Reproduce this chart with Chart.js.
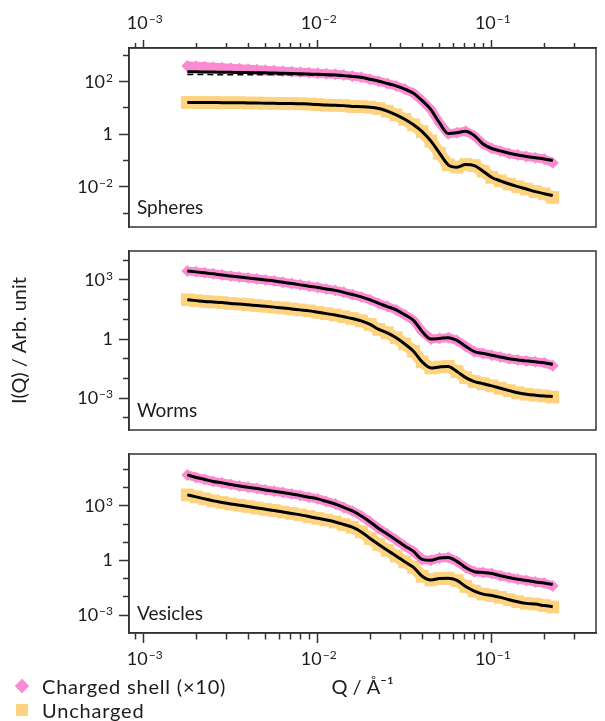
<!DOCTYPE html>
<html>
<head>
<meta charset="utf-8">
<script src="https://cdn.jsdelivr.net/npm/chart.js@4.4.1/dist/chart.umd.min.js"></script>
<style>
  body { margin: 0; background: #fff; }
  #wrap { position: relative; width: 605px; height: 721px; font-family: Lato, sans-serif; color: #1c1c1c; }
  #wrap canvas { position: absolute; left: 0; top: 0; }
  .key { position: absolute; left: 42px; font-size: 20px; line-height: 22px; letter-spacing: 0.8px; white-space: nowrap; }
  .key i { position: absolute; left: -26px; top: 5px; width: 12px; height: 12px; }
  .key i.diamond { background: #fa8bd3; transform: rotate(45deg) scale(0.85); }
  .key i.square { background: #fdd37f; }
</style>
</head>
<body>
<div id="wrap">
  <canvas id="spheres" width="605" height="721"></canvas>
  <canvas id="worms" width="605" height="721"></canvas>
  <canvas id="vesicles" width="605" height="721"></canvas>
  <div class="key" style="top:675px"><i class="diamond"></i>Charged shell (×10)</div>
  <div class="key" style="top:699px"><i class="square"></i>Uncharged</div>
</div>
<script>
// scattering vector, Å^-1
const Q = [0.00178, 0.00200, 0.00224, 0.00251, 0.00282, 0.00316, 0.00355, 0.00398, 0.00447, 0.00501,
  0.00562, 0.00631, 0.00708, 0.00794, 0.00891, 0.0100, 0.0112, 0.0126, 0.0141, 0.0158,
  0.0178, 0.0200, 0.0224, 0.0251, 0.0282, 0.0316, 0.0355, 0.0398, 0.0447, 0.0501,
  0.0562, 0.0631, 0.0708, 0.0794, 0.0891, 0.100, 0.112, 0.126, 0.141, 0.158,
  0.178, 0.200, 0.224];

// all intensities below are log10 I(Q)
// spheres
const spheresCharged = [2.60, 2.59, 2.57, 2.55, 2.53, 2.51, 2.49, 2.47, 2.45, 2.43, 2.42, 2.40, 2.38, 2.36, 2.34, 2.32, 2.30, 2.28, 2.25, 2.21,
  2.17, 2.09, 2.02, 1.93, 1.84, 1.72, 1.56, 1.28, 0.94, 0.43, 0.02, 0.06, 0.12, -0.06, -0.37, -0.54, -0.63, -0.73, -0.79, -0.84,
  -0.89, -0.94, -1.08];
const spheresChargedFit = [2.38, 2.375, 2.37, 2.365, 2.36, 2.355, 2.35, 2.345, 2.34, 2.335, 2.33, 2.32, 2.31, 2.30, 2.29, 2.28, 2.265, 2.25, 2.23, 2.20,
  2.17, 2.09, 2.02, 1.93, 1.84, 1.72, 1.56, 1.28, 0.94, 0.43, 0.03, 0.06, 0.12, -0.05, -0.37, -0.54, -0.63, -0.72, -0.79, -0.84,
  -0.89, -0.94, -1.00];
const spheresChargedFit2 = [2.27, 2.27, 2.27, 2.268, 2.266, 2.264, 2.262, 2.26, 2.26, 2.26, 2.26, 2.26, 2.26, 2.26, 2.26, 2.25, 2.24, 2.23, 2.21, 2.18,
  2.15, 2.07, 2.00, 1.91, 1.82, 1.71, 1.55, 1.28, 0.94, 0.43, 0.03, 0.06, 0.12, -0.05, -0.37, -0.54, -0.63, -0.72, -0.79, -0.84,
  -0.89, -0.94, -1.00];
const spheresUncharged = [1.21, 1.21, 1.21, 1.21, 1.20, 1.20, 1.20, 1.19, 1.19, 1.18, 1.18, 1.17, 1.17, 1.16, 1.15, 1.13, 1.11, 1.10, 1.09, 1.06,
  1.05, 1.03, 0.98, 0.88, 0.74, 0.57, 0.36, 0.10, -0.26, -0.72, -1.16, -1.25, -1.15, -1.19, -1.40, -1.64, -1.77, -1.89, -1.99, -2.08,
  -2.18, -2.26, -2.40];
const spheresUnchargedFit = [1.21, 1.21, 1.21, 1.21, 1.20, 1.20, 1.20, 1.19, 1.19, 1.18, 1.18, 1.17, 1.17, 1.16, 1.15, 1.13, 1.11, 1.10, 1.09, 1.06,
  1.05, 1.03, 0.98, 0.88, 0.74, 0.57, 0.36, 0.10, -0.26, -0.72, -1.16, -1.25, -1.15, -1.19, -1.40, -1.64, -1.77, -1.89, -1.99, -2.08,
  -2.18, -2.26, -2.33];

// worms
const wormsCharged = [3.46, 3.41, 3.36, 3.31, 3.25, 3.20, 3.15, 3.10, 3.05, 3.00, 2.95, 2.88, 2.82, 2.75, 2.68, 2.62, 2.54, 2.47, 2.37, 2.26,
  2.14, 1.99, 1.81, 1.65, 1.48, 1.23, 0.95, 0.38, 0.00, 0.03, 0.07, -0.07, -0.37, -0.64, -0.73, -0.82, -0.91, -1.00, -1.06, -1.11,
  -1.16, -1.20, -1.36];
const wormsChargedFit = [3.46, 3.41, 3.36, 3.31, 3.25, 3.20, 3.15, 3.10, 3.05, 3.00, 2.95, 2.88, 2.82, 2.75, 2.68, 2.62, 2.54, 2.47, 2.37, 2.26,
  2.14, 1.99, 1.81, 1.65, 1.48, 1.23, 0.95, 0.38, 0.00, 0.03, 0.07, -0.07, -0.37, -0.64, -0.73, -0.82, -0.91, -1.00, -1.06, -1.11,
  -1.16, -1.20, -1.29];
const wormsUncharged = [1.99, 1.95, 1.91, 1.88, 1.85, 1.81, 1.78, 1.74, 1.70, 1.66, 1.62, 1.58, 1.53, 1.48, 1.43, 1.36, 1.29, 1.22, 1.13, 1.04,
  0.92, 0.74, 0.49, 0.31, 0.06, -0.25, -0.62, -1.16, -1.47, -1.42, -1.39, -1.65, -1.96, -2.16, -2.27, -2.38, -2.50, -2.62, -2.73, -2.80,
  -2.85, -2.89, -2.95];
const wormsUnchargedFit = [1.99, 1.95, 1.91, 1.88, 1.85, 1.81, 1.78, 1.74, 1.70, 1.66, 1.62, 1.58, 1.53, 1.48, 1.43, 1.36, 1.29, 1.22, 1.13, 1.04,
  0.92, 0.74, 0.49, 0.31, 0.06, -0.25, -0.62, -1.16, -1.47, -1.42, -1.39, -1.65, -1.96, -2.16, -2.27, -2.38, -2.50, -2.62, -2.73, -2.80,
  -2.85, -2.89, -2.92];

// vesicles
const vesiclesCharged = [4.71, 4.57, 4.46, 4.35, 4.27, 4.18, 4.10, 4.03, 3.96, 3.88, 3.81, 3.74, 3.66, 3.58, 3.48, 3.39, 3.25, 3.11, 2.92, 2.73,
  2.45, 2.12, 1.76, 1.46, 1.13, 0.80, 0.50, 0.06, 0.01, 0.14, 0.17, -0.05, -0.39, -0.62, -0.66, -0.72, -0.84, -0.94, -1.03, -1.10,
  -1.18, -1.24, -1.40];
const vesiclesChargedFit = [4.71, 4.57, 4.46, 4.35, 4.27, 4.18, 4.10, 4.03, 3.96, 3.88, 3.81, 3.74, 3.66, 3.58, 3.48, 3.39, 3.25, 3.11, 2.92, 2.73,
  2.45, 2.12, 1.76, 1.46, 1.13, 0.80, 0.50, 0.06, 0.01, 0.14, 0.17, -0.05, -0.39, -0.62, -0.66, -0.72, -0.84, -0.94, -1.03, -1.10,
  -1.18, -1.24, -1.32];
const vesiclesUncharged = [3.61, 3.50, 3.39, 3.28, 3.19, 3.11, 3.04, 2.97, 2.89, 2.82, 2.75, 2.67, 2.59, 2.51, 2.42, 2.32, 2.23, 2.12, 1.98, 1.83,
  1.57, 1.21, 0.88, 0.56, 0.25, -0.07, -0.38, -0.87, -1.07, -0.99, -0.98, -1.10, -1.43, -1.68, -1.85, -1.93, -2.03, -2.16, -2.27, -2.36,
  -2.40, -2.48, -2.56];
const vesiclesUnchargedFit = [3.61, 3.50, 3.39, 3.28, 3.19, 3.11, 3.04, 2.97, 2.89, 2.82, 2.75, 2.67, 2.59, 2.51, 2.42, 2.32, 2.23, 2.12, 1.98, 1.83,
  1.57, 1.21, 0.88, 0.56, 0.25, -0.07, -0.38, -0.87, -1.07, -0.99, -0.98, -1.10, -1.43, -1.68, -1.85, -1.93, -2.03, -2.16, -2.27, -2.36,
  -2.40, -2.48, -2.54];

const FONT = 'Lato';
const INK = '#1c1c1c';
const FRAME = '#333';
const PINK = '#fa8bd3';
const YELLOW = '#fdd37f';
const Q_MIN = 8.23e-4, Q_MAX = 0.397;

function points(logI) {
  return Q.map((q, i) => ({ x: q, y: Math.pow(10, logI[i]) }));
}

// "10" with a raised exponent; anchor is right edge or centre, y is the baseline
function drawPower(ctx, k, x, y, align) {
  const base = k === 0 ? '1' : '10';
  const exp = k === 0 ? '' : String(k).replace('-', '\u2212');
  ctx.font = '18px ' + FONT;
  const wb = ctx.measureText(base).width;
  ctx.font = '12px ' + FONT;
  const we = exp ? ctx.measureText(exp).width + 1 : 0;
  const left = align === 'right' ? x - wb - we : x - (wb + we) / 2;
  ctx.font = '18px ' + FONT;
  ctx.fillText(base, left, y);
  if (exp) {
    ctx.font = '12px ' + FONT;
    ctx.fillText(exp, left + wb + 1, y - 6);
  }
}

// box round each panel
const frame = {
  id: 'frame',
  afterDatasetsDraw(chart) {
    const { ctx, chartArea: a } = chart;
    ctx.save();
    ctx.strokeStyle = FRAME;
    ctx.lineWidth = 1.5;
    ctx.strokeRect(a.left, a.top, a.right - a.left, a.bottom - a.top);
    ctx.restore();
  }
};
// decade labels on the major ticks
const powerLabels = {
  id: 'powerLabels',
  afterDraw(chart) {
    const ctx = chart.ctx;
    ctx.save();
    ctx.fillStyle = INK;
    ctx.textBaseline = 'alphabetic';
    Object.values(chart.scales).forEach(s => {
      if (!s.options.display) return;
      s.ticks.forEach(t => {
        if (!t.major) return;
        const k = Math.round(Math.log10(t.value));
        const p = s.getPixelForValue(t.value);
        if (s.axis === 'y') drawPower(ctx, k, 113, p + 6, 'right');
        else if (s.position === 'top') drawPower(ctx, k, p + 1, 29, 'center');
        else drawPower(ctx, k, p + 1, 665, 'center');
      });
    });
    ctx.restore();
  }
};
// morphology name in the lower left corner
const nameTag = {
  id: 'nameTag',
  afterDraw(chart, args, opts) {
    const { ctx, chartArea: a } = chart;
    ctx.save();
    ctx.font = '19px ' + FONT;
    ctx.fillStyle = INK;
    ctx.textBaseline = 'alphabetic';
    ctx.fillText(opts.text, a.left + 8, a.bottom - 13);
    ctx.restore();
  }
};

// minor ticks are drawn as a dashed part of the full tick
function tickDash(len, minorLen, fromAxis) {
  return {
    dash: c => (c.tick && !c.tick.major ? [minorLen, len - minorLen] : []),
    offset: c => (c.tick && !c.tick.major && !fromAxis ? minorLen : 0)
  };
}

function xScale(pos, show) {
  const len = pos === 'top' ? 8 : 10;
  const minor = pos === 'top' ? 5 : 6;
  const d = tickDash(len, minor, pos === 'bottom');
  return {
    type: 'logarithmic',
    position: pos,
    display: show,
    min: Q_MIN,
    max: Q_MAX,
    afterBuildTicks: s => {
      const t = [];
      for (let k = -4; k <= -1; k++) {
        for (let m = 1; m <= 9; m++) {
          const v = m * Math.pow(10, k);
          if (v >= Q_MIN && v <= Q_MAX) t.push({ value: v, major: m === 1 });
        }
      }
      s.ticks = t;
    },
    afterFit: s => { s.height = !show ? 0 : pos === 'top' ? 48 : 70; },
    ticks: { display: false, autoSkip: false, maxRotation: 0 },
    grid: {
      drawOnChartArea: false,
      tickLength: len,
      tickColor: FRAME,
      tickWidth: 1.5,
      tickBorderDash: d.dash,
      tickBorderDashOffset: d.offset
    },
    border: { color: FRAME, width: 1.5 },
    title: {
      display: show && pos === 'bottom',
      text: 'Q / \u00C5\u207B\u00B9',
      color: INK,
      font: { family: FONT, size: 20 },
      padding: { top: 0, bottom: 3 }
    }
  };
}

function yScale(lo, hi, step, title) {
  const d = tickDash(10, 6, false);
  return {
    type: 'logarithmic',
    min: Math.pow(10, lo),
    max: Math.pow(10, hi),
    afterBuildTicks: s => {
      const t = [];
      for (let k = Math.ceil(lo); k <= Math.floor(hi); k++) t.push({ value: Math.pow(10, k), major: k % step === 0 });
      s.ticks = t;
    },
    afterFit: s => { s.width = 129; },
    ticks: { display: false, autoSkip: false },
    grid: {
      drawOnChartArea: false,
      tickLength: 10,
      tickColor: FRAME,
      tickWidth: 1.5,
      tickBorderDash: d.dash,
      tickBorderDashOffset: d.offset
    },
    border: { color: FRAME, width: 1.5 },
    title: {
      display: !!title,
      text: title || '',
      color: INK,
      font: { family: FONT, size: 20 },
      padding: { top: 8, bottom: 0 }
    }
  };
}

function dataSet(label, logI, color, style, radius, width, order) {
  return {
    label, data: points(logI), showLine: true, order,
    borderColor: color, borderWidth: width, borderJoinStyle: 'round',
    pointStyle: style, pointRadius: radius, pointBorderWidth: 0,
    pointBackgroundColor: color, backgroundColor: color
  };
}
function fitSet(label, logI, dashed, smooth) {
  return {
    label, data: points(logI), showLine: true, order: 0,
    borderColor: '#000', borderWidth: dashed ? 1.5 : 3, borderDash: dashed ? [6, 4] : [],
    pointRadius: 0, tension: smooth === false ? 0 : 0.3, cubicInterpolationMode: 'monotone'
  };
}

function panel(id, p) {
  return new Chart(document.getElementById(id), {
    type: 'scatter',
    data: { datasets: p.datasets },
    options: {
      responsive: false,
      animation: false,
      events: [],
      layout: { padding: { left: 0, right: 1, top: p.top, bottom: p.bottom } },
      plugins: { legend: { display: false }, tooltip: { enabled: false }, nameTag: { text: p.name } },
      scales: {
        x: xScale(p.xPos, p.xShow),
        y: yScale(p.yLo, p.yHi, p.step, p.yTitle)
      }
    },
    plugins: [frame, powerLabels, nameTag]
  });
}

panel('spheres', {
  name: 'Spheres', top: 0, bottom: 494, xPos: 'top', xShow: true, yLo: -3.47, yHi: 3.28, step: 2,
  datasets: [
    fitSet('Fit (charged)', spheresChargedFit, false),
    fitSet('Fit (charged, alt.)', spheresChargedFit2, true),
    fitSet('Fit (uncharged)', spheresUnchargedFit, false),
    dataSet('Charged shell (×10)', spheresCharged, PINK, 'rectRot', 6, 9, 1),
    dataSet('Uncharged', spheresUncharged, YELLOW, 'rect', 9, 12, 2)
  ]
});

panel('worms', {
  name: 'Worms', top: 251, bottom: 291, xPos: 'bottom', xShow: false, yLo: -4.62, yHi: 4.47, step: 3,
  yTitle: 'I(Q) / Arb. unit',
  datasets: [
    fitSet('Fit (charged)', wormsChargedFit, false),
    fitSet('Fit (uncharged)', wormsUnchargedFit, false),
    dataSet('Charged shell (×10)', wormsCharged, PINK, 'rectRot', 6, 9, 1),
    dataSet('Uncharged', wormsUncharged, YELLOW, 'rect', 9, 12, 2)
  ]
});

panel('vesicles', {
  name: 'Vesicles', top: 454, bottom: 18, xPos: 'bottom', xShow: true, yLo: -3.99, yHi: 5.86, step: 3,
  datasets: [
    fitSet('Fit (charged)', vesiclesChargedFit, false, false),
    fitSet('Fit (uncharged)', vesiclesUnchargedFit, false, false),
    dataSet('Charged shell (×10)', vesiclesCharged, PINK, 'rectRot', 6, 9, 1),
    dataSet('Uncharged', vesiclesUncharged, YELLOW, 'rect', 9, 12, 2)
  ]
});
</script>
</body>
</html>
